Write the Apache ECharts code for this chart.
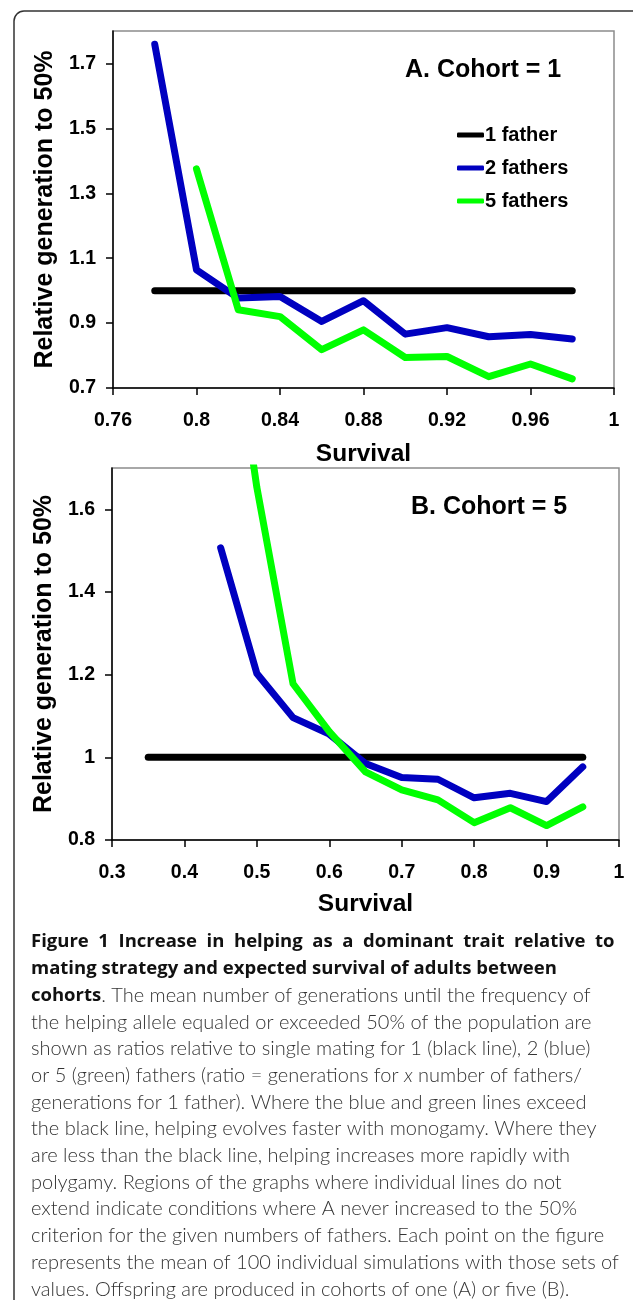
<!DOCTYPE html>
<html>
<head>
<meta charset="utf-8">
<script src="https://cdn.jsdelivr.net/npm/echarts@6/dist/echarts.min.js"></script>
<style>
html,body{margin:0;padding:0;background:#fff;}
#chart{width:633px;height:1300px;}
</style>
</head>
<body>
<div id="chart"></div>
<script>
// ---- Panel A (cohort = 1) ----
const survivalA = [0.78, 0.80, 0.82, 0.84, 0.86, 0.88, 0.90, 0.92, 0.94, 0.96, 0.98];
const oneFatherA = [1, 1, 1, 1, 1, 1, 1, 1, 1, 1, 1];
const twoFathersA = [1.759, 1.064, 0.977, 0.982, 0.905, 0.969, 0.866, 0.886, 0.858, 0.865, 0.851];
const fiveFathersA = [null, 1.375, 0.941, 0.920, 0.818, 0.879, 0.794, 0.797, 0.735, 0.774, 0.728];
const xTicksA = [0.76, 0.8, 0.84, 0.88, 0.92, 0.96, 1];
const yTicksA = [0.7, 0.9, 1.1, 1.3, 1.5, 1.7];

// ---- Panel B (cohort = 5) ----
const survivalB = [0.35, 0.40, 0.45, 0.50, 0.55, 0.60, 0.65, 0.70, 0.75, 0.80, 0.85, 0.90, 0.95];
const oneFatherB = [1, 1, 1, 1, 1, 1, 1, 1, 1, 1, 1, 1, 1];
const twoFathersB = [null, null, 1.507, 1.203, 1.096, 1.056, 0.985, 0.951, 0.947, 0.902, 0.913, 0.893, 0.977];
const fiveFathersB = [null, null, 2.25, 1.653, 1.178, 1.062, 0.965, 0.921, 0.897, 0.842, 0.878, 0.835, 0.880];
const xTicksB = [0.3, 0.4, 0.5, 0.6, 0.7, 0.8, 0.9, 1];
const yTicksB = [0.8, 1, 1.2, 1.4, 1.6];

const seriesNames = ['1 father', '2 fathers', '5 fathers'];
const seriesColors = ['#000000', '#0000c0', '#00ff00'];

const captionLines = [
  '{hb|Figure 1 Increase in helping as a dominant trait relative to}',
  '{hb|mating strategy and expected survival of adults between}',
  '{hb|cohorts}. The mean number of generations until the frequency of',
  'the helping allele equaled or exceeded 50% of the population are',
  'shown as ratios relative to single mating for 1 (black line), 2 (blue)',
  'or 5 (green) fathers (ratio = generations for {it|x} number of fathers/',
  'generations for 1 father). Where the blue and green lines exceed',
  'the black line, helping evolves faster with monogamy. Where they',
  'are less than the black line, helping increases more rapidly with',
  'polygamy. Regions of the graphs where individual lines do not',
  'extend indicate conditions where A never increased to the 50%',
  'criterion for the given numbers of fathers. Each point on the figure',
  'represents the mean of 100 individual simulations with those sets of',
  'values. Offspring are produced in cohorts of one (A) or five (B).'
];
// the first caption line is justified (wider word spacing) in the original
const justifiedLines = [0];

const FONT = "'Liberation Sans', Arial, sans-serif";
const CAPFONT = "Lato, 'Open Sans', sans-serif";
const HEADFONT = "'Open Sans', 'Noto Sans', sans-serif";

function pairs(xs, ys) { return xs.map((x, i) => [x, ys[i]]); }

function xAxisDef(gridIndex, min, max, ticks, gap) {
  return {
    type: 'value', gridIndex, min, max,
    name: 'Survival', nameLocation: 'middle', nameGap: gap,
    nameTextStyle: { fontFamily: FONT, fontWeight: 'bold', fontSize: 24.5, color: '#000' },
    axisLine: { show: true, onZero: false, lineStyle: { color: '#000', width: 1.5 } },
    axisTick: { show: true, inside: false, length: 7, customValues: ticks, lineStyle: { color: '#000', width: 1.5 } },
    axisLabel: { customValues: ticks, margin: 23, fontFamily: FONT, fontWeight: 'bold', fontSize: 19.5, color: '#000',
      formatter: v => String(+v.toFixed(2)) },
    splitLine: { show: false }
  };
}
function yAxisDef(gridIndex, min, max, ticks) {
  return {
    type: 'value', gridIndex, min, max,
    name: 'Relative generation to 50%', nameLocation: 'middle', nameGap: 55, nameRotate: 90,
    nameTextStyle: { fontFamily: FONT, fontWeight: 'bold', fontSize: 25, color: '#000' },
    axisLine: { show: true, onZero: false, lineStyle: { color: '#000', width: 1.5 } },
    axisTick: { show: true, inside: false, length: 7, customValues: ticks, lineStyle: { color: '#000', width: 1.5 } },
    axisLabel: { customValues: ticks, margin: 17, fontFamily: FONT, fontWeight: 'bold', fontSize: 19.5, color: '#000',
      formatter: v => String(+v.toFixed(2)) },
    splitLine: { show: false }
  };
}
function lineSeries(name, color, data, xi, yi) {
  return {
    type: 'line', name, data, xAxisIndex: xi, yAxisIndex: yi,
    showSymbol: false, symbol: 'none', connectNulls: false, clip: true,
    lineStyle: { color, width: 7, cap: 'round', join: 'round' },
    itemStyle: { color }, emphasis: { disabled: true }, animation: false
  };
}

const chart = echarts.init(document.getElementById('chart'), null, { renderer: 'canvas' });

const graphics = [
  { type: 'rect', shape: { x: 14, y: 11, width: 660, height: 1340, r: 10 },
    style: { fill: 'none', stroke: '#333', lineWidth: 1.5 }, silent: true },
  { type: 'text', x: 405, y: 70, style: { text: 'A. Cohort = 1', font: "bold 25px 'Liberation Sans', Arial, sans-serif",
      fill: '#000', textAlign: 'left', textVerticalAlign: 'middle' } },
  { type: 'text', x: 411, y: 507, style: { text: 'B. Cohort = 5', font: "bold 25px 'Liberation Sans', Arial, sans-serif",
      fill: '#000', textAlign: 'left', textVerticalAlign: 'middle' } }
];
captionLines.forEach((t, i) => {
  const txt = justifiedLines.includes(i) ? t.replace(/ /g, '  ') : t;
  graphics.push({
    type: 'text', x: 31, y: 942 + i * 26.7,
    style: {
      text: txt, fontFamily: CAPFONT, fontSize: 20, fontWeight: 300, fill: '#333',
      textVerticalAlign: 'middle',
      rich: {
        hb: { fontFamily: HEADFONT, fontSize: 18.5, fontWeight: 'bold', fill: '#111' },
        it: { fontFamily: CAPFONT, fontSize: 20, fontWeight: 300, fontStyle: 'italic', fill: '#333' }
      }
    }
  });
});

chart.setOption({
  animation: false,
  backgroundColor: '#fff',
  grid: [
    { left: 113, top: 31, width: 501, height: 357, show: true, borderColor: '#8c8c8c', borderWidth: 1.5, backgroundColor: 'transparent' },
    { left: 112, top: 468, width: 507, height: 372, show: true, borderColor: '#8c8c8c', borderWidth: 1.5, backgroundColor: 'transparent' }
  ],
  xAxis: [ xAxisDef(0, 0.76, 1, xTicksA, 54), xAxisDef(1, 0.3, 1, xTicksB, 52) ],
  yAxis: [ yAxisDef(0, 0.7, 1.8, yTicksA), yAxisDef(1, 0.8, 1.7, yTicksB) ],
  legend: {
    show: true, orient: 'vertical', left: 452, top: 120,
    data: seriesNames, icon: 'roundRect', itemWidth: 27, itemHeight: 5, itemGap: 13,
    textStyle: { fontFamily: FONT, fontWeight: 'bold', fontSize: 20, color: '#000', lineHeight: 20, padding: [0,0,0,-4] },
    selectedMode: false
  },
  series: [
    lineSeries(seriesNames[0], seriesColors[0], pairs(survivalA, oneFatherA), 0, 0),
    lineSeries(seriesNames[1], seriesColors[1], pairs(survivalA, twoFathersA), 0, 0),
    lineSeries(seriesNames[2], seriesColors[2], pairs(survivalA, fiveFathersA), 0, 0),
    lineSeries(seriesNames[0], seriesColors[0], pairs(survivalB, oneFatherB), 1, 1),
    lineSeries(seriesNames[1], seriesColors[1], pairs(survivalB, twoFathersB), 1, 1),
    lineSeries(seriesNames[2], seriesColors[2], pairs(survivalB, fiveFathersB), 1, 1)
  ],
  graphic: graphics
});
</script>
</body>
</html>
